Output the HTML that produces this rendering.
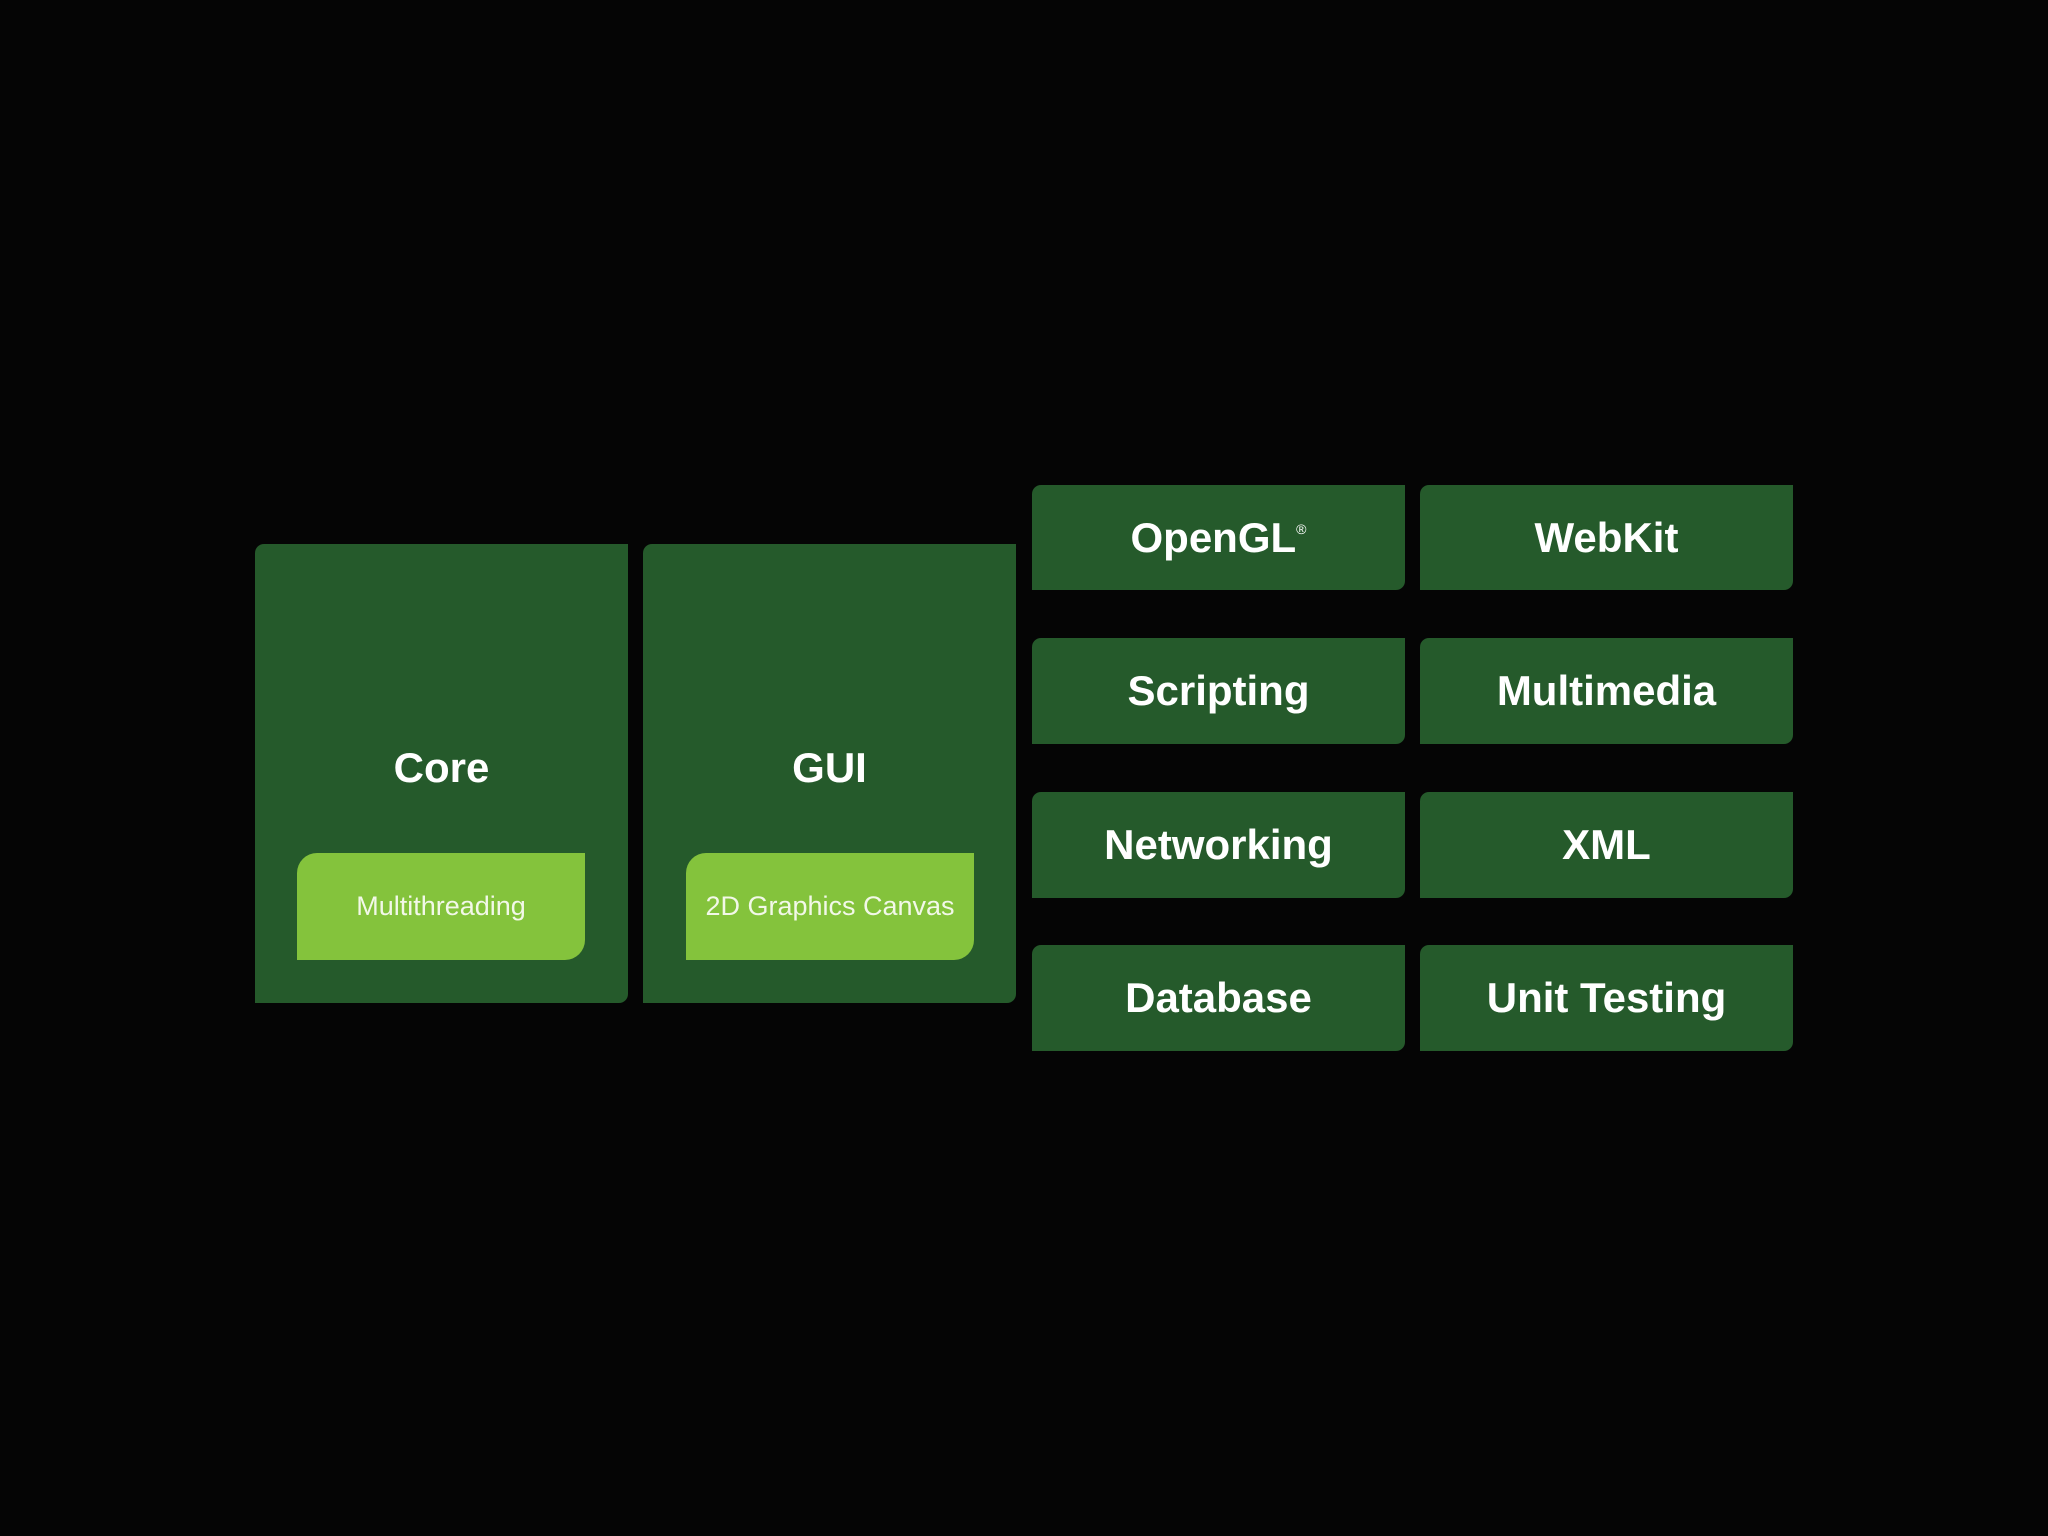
<!DOCTYPE html>
<html><head><meta charset="utf-8"><style>
html,body{margin:0;padding:0;background:#050505;width:2048px;height:1536px;overflow:hidden}
.b{position:absolute;background:#255a2b;border-radius:9px 0 9px 0;color:#fff;font-family:"Liberation Sans","DejaVu Sans",sans-serif;font-weight:bold;font-size:42px;display:flex;align-items:center;justify-content:center}
.big{align-items:flex-start}
.big span{position:absolute;top:200px;width:100%;text-align:center}
.in{position:absolute;background:#84c33c;border-radius:20px 0 20px 0;color:#f2f8e8;font-family:"Liberation Sans","DejaVu Sans",sans-serif;font-size:27px;font-weight:normal;display:flex;align-items:center;justify-content:center}
</style></head><body>
<div class="b big" style="left:255px;top:544px;width:373px;height:459px"><span>Core</span>
<div class="in" style="left:42px;top:309px;width:288px;height:107px">Multithreading</div></div>
<div class="b big" style="left:643px;top:544px;width:373px;height:459px"><span>GUI</span>
<div class="in" style="left:43px;top:309px;width:288px;height:107px">2D Graphics Canvas</div></div>
<div class="b" style="left:1032px;top:485px;width:373px;height:105px">OpenGL<sup style="font-size:14px;font-weight:normal;margin-top:-18px">®</sup></div>
<div class="b" style="left:1420px;top:485px;width:373px;height:105px">WebKit</div>
<div class="b" style="left:1032px;top:638px;width:373px;height:106px">Scripting</div>
<div class="b" style="left:1420px;top:638px;width:373px;height:106px">Multimedia</div>
<div class="b" style="left:1032px;top:792px;width:373px;height:106px">Networking</div>
<div class="b" style="left:1420px;top:792px;width:373px;height:106px">XML</div>
<div class="b" style="left:1032px;top:945px;width:373px;height:106px">Database</div>
<div class="b" style="left:1420px;top:945px;width:373px;height:106px">Unit Testing</div>
</body></html>
